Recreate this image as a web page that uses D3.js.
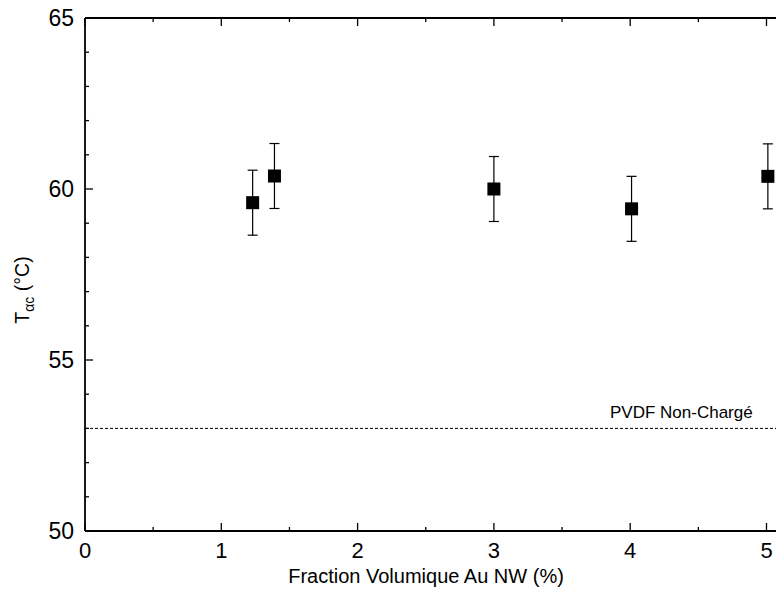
<!DOCTYPE html>
<html><head><meta charset="utf-8">
<script src="https://cdn.jsdelivr.net/npm/d3@7"></script>
<style>body{margin:0;background:#fff}svg{display:block}text{font-family:"Liberation Sans",Arial,sans-serif}</style>
</head><body>
<script>
const xValues = [1.23, 1.39, 3.0, 4.01, 5.01];
const yValues = [59.6, 60.38, 60.0, 59.42, 60.37];
const yErrors = [0.95, 0.95, 0.95, 0.95, 0.95];
const refValue = 53;
const refLabel = "PVDF Non-Chargé";
const xMajorTicks = [0, 1, 2, 3, 4, 5];
const yMajorTicks = [50, 55, 60, 65];

const W = 776, H = 590;
const svg = d3.select("body").append("svg").attr("width", W).attr("height", H);
const x = d3.scaleLinear().domain([0, 6]).range([85, 85 + 136.3 * 6]);
const y = d3.scaleLinear().domain([50, 65]).range([531, 18]);
const x0 = x(0), x1 = x(6), y0 = y(50), y1 = y(65);

const g = svg.append("g");
const xMinor = d3.range(0.5, 6, 1);
const yMinor = d3.range(50, 65, 1).filter(v => v % 5 !== 0);
function tick(sel, cls, data, attrs) {
  sel.selectAll("." + cls).data(data).enter().append("line").attr("class", cls)
    .attr("x1", attrs.x1).attr("x2", attrs.x2).attr("y1", attrs.y1).attr("y2", attrs.y2)
    .attr("stroke", "#000").attr("stroke-width", 1.3);
}
tick(g, "xt", xMajorTicks, {x1: d => x(d), x2: d => x(d), y1: y0, y2: y0 - 8});
tick(g, "xm", xMinor, {x1: d => x(d), x2: d => x(d), y1: y0, y2: y0 - 4});
tick(g, "xtt", xMajorTicks, {x1: d => x(d), x2: d => x(d), y1: y1, y2: y1 + 8});
tick(g, "xmt", xMinor, {x1: d => x(d), x2: d => x(d), y1: y1, y2: y1 + 4});
tick(g, "yt", yMajorTicks, {x1: x0, x2: x0 + 8, y1: d => y(d), y2: d => y(d)});
tick(g, "ym", yMinor, {x1: x0, x2: x0 + 4, y1: d => y(d), y2: d => y(d)});
// frame
g.append("line").attr("x1", x0).attr("x2", x1).attr("y1", y0).attr("y2", y0).attr("stroke", "#000").attr("stroke-width", 1.8);
g.append("line").attr("x1", x0).attr("x2", x1).attr("y1", y1).attr("y2", y1).attr("stroke", "#000").attr("stroke-width", 1.8);
g.append("line").attr("x1", x0).attr("x2", x0).attr("y1", y0).attr("y2", y1).attr("stroke", "#000").attr("stroke-width", 1.8);

// tick labels
g.selectAll(".xl").data(xMajorTicks).enter().append("text")
  .attr("x", d => x(d)).attr("y", 558).attr("text-anchor", "middle").attr("font-size", 22).text(d => d);
g.selectAll(".yl").data(yMajorTicks).enter().append("text")
  .attr("x", 74).attr("y", d => y(d) + 8).attr("text-anchor", "end").attr("font-size", 23).text(d => d);

// axis titles
g.append("text").attr("x", 426).attr("y", 583).attr("text-anchor", "middle").attr("font-size", 20)
  .text("Fraction Volumique Au NW (%)");
const yl = g.append("text").attr("transform", "translate(29,290) rotate(-90)").attr("text-anchor", "middle").attr("font-size", 19.5);
yl.append("tspan").text("T");
yl.append("tspan").attr("font-size", 14).attr("dy", 5).text("αc");
yl.append("tspan").attr("dy", -5).text(" (°C)");

// reference line
g.append("line").attr("x1", x0).attr("x2", x1).attr("y1", y(refValue)).attr("y2", y(refValue))
  .attr("stroke", "#000").attr("stroke-width", 1).attr("stroke-dasharray", "3,2");
g.append("text").attr("x", 610).attr("y", 418).attr("font-size", 17).text(refLabel);

// error bars
const data = xValues.map((v, i) => ({x: v, y: yValues[i], e: yErrors[i]}));
const eb = g.selectAll(".eb").data(data).enter().append("g").attr("stroke", "#000").attr("stroke-width", 1.2);
eb.append("line").attr("x1", d => x(d.x)).attr("x2", d => x(d.x)).attr("y1", d => y(d.y - d.e)).attr("y2", d => y(d.y + d.e));
eb.append("line").attr("x1", d => x(d.x) - 5).attr("x2", d => x(d.x) + 5).attr("y1", d => y(d.y - d.e)).attr("y2", d => y(d.y - d.e));
eb.append("line").attr("x1", d => x(d.x) - 5).attr("x2", d => x(d.x) + 5).attr("y1", d => y(d.y + d.e)).attr("y2", d => y(d.y + d.e));
g.selectAll(".pt").data(data).enter().append("rect")
  .attr("x", d => x(d.x) - 6.5).attr("y", d => y(d.y) - 6.5).attr("width", 13).attr("height", 13).attr("fill", "#000");
</script>
</body></html>
